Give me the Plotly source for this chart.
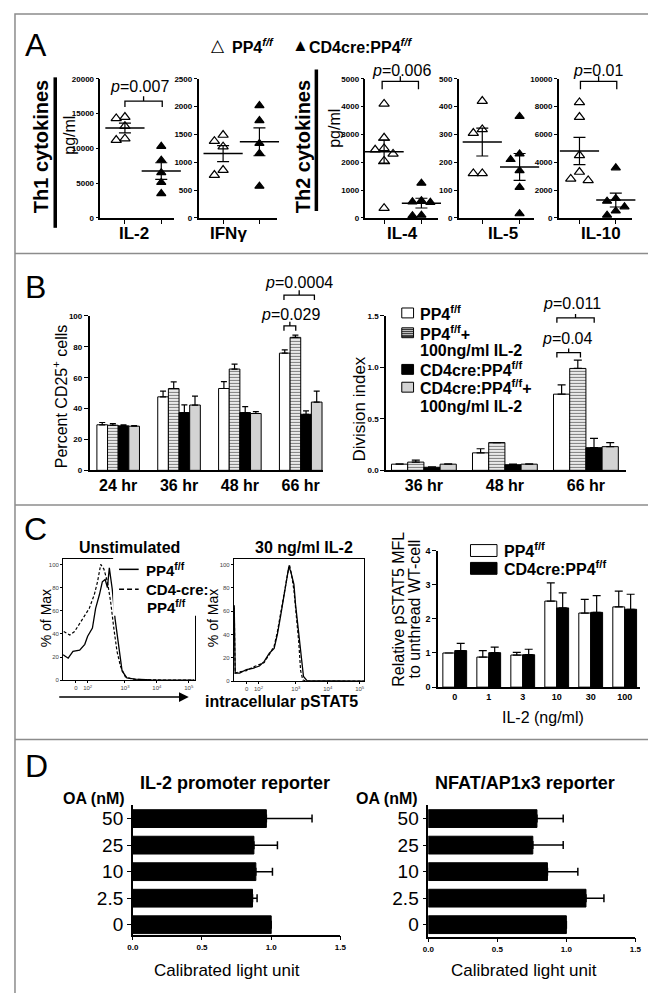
import numpy as np
import plotly.graph_objects as go

W, H = 656, 993
FONT = "Liberation Sans, Arial, Helvetica, sans-serif"

# ---------------- Panel A: cytokines (pg/ml) ----------------
cyto_names = ["IL-2", "IFNγ", "IL-4", "IL-5", "IL-10"]
il2_wt = [14300, 14500, 13200, 11200, 11400]
il2_ko = [10300, 8300, 6500, 5100, 3500]
ifng_wt = [1490, 1380, 1280, 770, 860]
ifng_ko = [2020, 1750, 1340, 1160, 570]
il4_wt = [4100, 2880, 2500, 2450, 2300, 2050, 350]
il4_ko = [1250, 620, 580, 560, 100, 80]
il5_wt = [420, 318, 305, 160, 160]
il5_ko = [365, 230, 210, 170, 110, 15]
il10_wt = [8300, 7250, 4500, 3300, 2800, 2700]
il10_ko = [3600, 1400, 1200, 800, 500, 200]
cyto_ymax = [20000, 2500, 5000, 500, 10000]
cyto_dtick = [5000, 500, 1000, 100, 2000]

# ---------------- Panel B ----------------
cd25_times = ["24 hr", "36 hr", "48 hr", "66 hr"]
cd25_wt = [29.5, 47.6, 53.0, 75.9]
cd25_wt_err = [1.5, 3.7, 4.5, 2.1]
cd25_wt_il2 = [29.2, 53.0, 65.6, 86.1]
cd25_wt_il2_err = [1.0, 4.3, 3.2, 1.5]
cd25_ko = [28.8, 37.4, 37.4, 36.3]
cd25_ko_err = [0.6, 5.0, 3.8, 2.2]
cd25_ko_il2 = [28.6, 42.3, 36.8, 44.2]
cd25_ko_il2_err = [0.4, 5.8, 1.2, 7.1]

div_times = ["36 hr", "48 hr", "66 hr"]
div_wt = [0.06, 0.17, 0.74]
div_wt_err = [0.004, 0.04, 0.09]
div_wt_il2 = [0.08, 0.27, 0.99]
div_wt_il2_err = [0.02, 0.0, 0.08]
div_ko = [0.03, 0.055, 0.22]
div_ko_err = [0.003, 0.005, 0.09]
div_ko_il2 = [0.06, 0.06, 0.23]
div_ko_il2_err = [0.003, 0.003, 0.04]

# ---------------- Panel C ----------------
hist_ticks = ["0", "10<sup>2</sup>", "10<sup>3</sup>", "10<sup>4</sup>", "10<sup>5</sup>"]
hist_tick_pos = [1.46, 1.83, 3, 4, 5]
unstim_wt_x = [1.06, 1.22, 1.37, 1.58, 1.74, 1.83, 1.98, 2.08, 2.20, 2.29, 2.38, 2.45, 2.51, 2.60, 2.69, 2.82, 2.91, 3.06, 3.31, 3.83, 5.18]
unstim_wt_y = [22, 19, 25, 26, 31, 38, 45, 62, 74, 85, 87, 80, 97, 79, 53, 25, 8, 2, 1, 0.3, 0]
unstim_ko_x = [1.08, 1.27, 1.42, 1.58, 1.73, 1.88, 2.04, 2.14, 2.24, 2.34, 2.45, 2.55, 2.65, 2.75, 2.86, 3.01, 3.22, 3.60, 5.18]
unstim_ko_y = [42, 39, 42, 49, 55, 62, 74, 85, 100, 96, 85, 68, 45, 25, 12, 3, 1, 0.3, 0]
il2stim_wt_x = [1.07, 1.10, 1.24, 1.45, 1.65, 1.86, 2.01, 2.17, 2.32, 2.42, 2.53, 2.63, 2.73, 2.78, 2.84, 2.94, 2.99, 3.09, 3.19, 3.24, 3.35, 5.15]
il2stim_wt_y = [65, 7, 7, 10, 11, 13, 17, 24, 28, 40, 57, 74, 88, 98, 94, 83, 66, 40, 17, 4, 0.5, 0]
il2stim_ko_x = [1.07, 1.10, 1.24, 1.45, 1.65, 1.86, 2.01, 2.17, 2.32, 2.42, 2.53, 2.63, 2.73, 2.80, 2.86, 2.94, 3.02, 3.09, 3.15, 3.22, 3.35, 5.15]
il2stim_ko_y = [63, 7, 8, 9, 12, 14, 16, 23, 30, 42, 60, 76, 90, 100, 92, 78, 55, 34, 9, 1, 0, 0]

il2_doses = ["0", "1", "3", "10", "30", "100"]
pstat5_wt = [1.0, 0.88, 0.94, 2.52, 2.17, 2.35]
pstat5_wt_err = [0.0, 0.19, 0.08, 0.53, 0.40, 0.46]
pstat5_ko = [1.07, 1.01, 0.95, 2.32, 2.19, 2.28]
pstat5_ko_err = [0.21, 0.16, 0.16, 0.44, 0.49, 0.44]

# ---------------- Panel D ----------------
oa_doses = ["0", "2.5", "10", "25", "50"]
il2_reporter = [1.0, 0.865, 0.889, 0.875, 0.965]
il2_reporter_err = [0.0, 0.033, 0.12, 0.17, 0.33]
nfat_reporter = [1.0, 1.142, 0.863, 0.757, 0.787]
nfat_reporter_err = [0.0, 0.13, 0.22, 0.22, 0.19]

# =========================================================
fig = go.Figure()
L = {}
annotations = []
shapes = []


def X(x):
    return x / W


def Y(y):
    return 1 - y / H


def axn(n, a):
    return f"{a}axis" if n == 1 else f"{a}axis{n}"


def ref(n, a):
    return a if n == 1 else f"{a}{n}"


def base_axis(**kw):
    d = dict(showline=True, linecolor="black", linewidth=1.5, ticks="outside",
             ticklen=4, tickwidth=1.2, tickcolor="black", showgrid=False,
             zeroline=False, fixedrange=True,
             tickfont=dict(family=FONT, size=8, color="black", weight="bold"))
    d.update(kw)
    return d


def txt(x, y, text, size, bold=False, angle=0, xanchor="center", yanchor="middle", color="black"):
    annotations.append(dict(x=X(x), y=Y(y), xref="paper", yref="paper", text=text,
                            showarrow=False, textangle=angle, xanchor=xanchor, yanchor=yanchor,
                            font=dict(family=FONT, size=size, color=color,
                                      weight="bold" if bold else "normal")))


def line(x0, y0, x1, y1, width=1.0, color="black", dash="solid"):
    shapes.append(dict(type="line", xref="paper", yref="paper", x0=X(x0), y0=Y(y0),
                       x1=X(x1), y1=Y(y1), line=dict(color=color, width=width, dash=dash)))


def rect(x0, y0, x1, y1, fill, lc="black", lw=1.0):
    shapes.append(dict(type="rect", xref="paper", yref="paper", x0=X(x0), y0=Y(y1),
                       x1=X(x1), y1=Y(y0), fillcolor=fill, line=dict(color=lc, width=lw)))


def bracket(xl, xr, ybar, yleg, ytick):
    xm = (X(xl) + X(xr)) / 2
    path = (f"M{X(xl)},{Y(yleg)} L{X(xl)},{Y(ybar)} L{X(xr)},{Y(ybar)} L{X(xr)},{Y(yleg)} "
            f"M{xm},{Y(ybar)} L{xm},{Y(ytick)}")
    shapes.append(dict(type="path", path=path, xref="paper", yref="paper",
                       line=dict(color="black", width=1.3)))


def swarm(vals, hstep, dx):
    vals = list(vals)
    order = np.argsort(-np.asarray(vals), kind="stable")
    placed = []
    offs = np.zeros(len(vals))
    for i in order:
        v = vals[i]
        chosen = 0.0
        for k in [0, -1, 1, -2, 2]:
            o = k * dx
            if all(abs(v - pv) >= hstep or abs(o - po) >= dx * 0.99 for pv, po in placed):
                chosen = o
                break
        offs[i] = chosen
        placed.append((v, chosen))
    return offs


# ---------------- Panel A ----------------
A_specs = [
    (il2_wt, il2_ko, 88, 163, 113, 150),
    (ifng_wt, ifng_ko, 188, 268, 213, 250),
    (il4_wt, il4_ko, 358, 432, 377, 415),
    (il5_wt, il5_ko, 453, 530, 477, 515),
    (il10_wt, il10_ko, 555, 630, 576, 613),
]
for i, (wt, ko, x0, x1, c0, c1) in enumerate(A_specs):
    n = i + 1
    unit = c1 - c0
    ymax = cyto_ymax[i]
    L[axn(n, "x")] = base_axis(domain=[X(x0), X(x1)], anchor=ref(n, "y"),
                               range=[(x0 - c0) / unit, (x1 - c0) / unit],
                               tickvals=[0, 1], showticklabels=False, ticklen=4)
    L[axn(n, "y")] = base_axis(domain=[Y(207), Y(66.5)], anchor=ref(n, "x"),
                               range=[0, ymax], dtick=cyto_dtick[i], tickformat="d", ticklen=3)
    hstep = ymax * 8.5 / 140
    for k, (vals, sym, size) in enumerate([(wt, "triangle-up-open", 9), (ko, "triangle-up", 8)]):
        offs = swarm(vals, hstep, 0.24)
        fig.add_trace(go.Scatter(
            x=list(k + offs), y=vals, mode="markers", cliponaxis=False,
            marker=dict(symbol=sym, size=size, color="black", line=dict(color="black", width=1.2)),
            xaxis=ref(n, "x"), yaxis=ref(n, "y"), showlegend=False, hoverinfo="skip"))
        m = float(np.mean(vals))
        s = float(np.std(vals, ddof=1) / np.sqrt(len(vals)))
        fig.add_trace(go.Scatter(
            x=[k], y=[m], mode="markers", cliponaxis=False,
            marker=dict(symbol="line-ew", size=28, color="black", line=dict(color="black", width=1.5)),
            error_y=dict(type="data", array=[s], width=6, thickness=1.2, color="black"),
            xaxis=ref(n, "x"), yaxis=ref(n, "y"), showlegend=False, hoverinfo="skip"))

label_x = [122, 219, 396, 498, 598]
for name, lx in zip(cyto_names, label_x):
    txt(lx, 223, name, 17, bold=True)

txt(22, 32, "A", 32)
txt(199, 33, "△", 17, xanchor="left")
txt(220, 33, "<b>PP4<sup><i>f/f</i></sup></b>", 16, xanchor="left")
txt(281, 33, "▲", 17, xanchor="left")
txt(298, 33, "<b>CD4cre:PP4<sup><i>f/f</i></sup></b>", 16, xanchor="left")
txt(27, 135, "Th1 cytokines", 20, bold=True, angle=-90)
txt(294, 135, "Th2 cytokines", 20, bold=True, angle=-90)
line(42, 65, 42, 217, width=3.5)
line(308, 57, 308, 200, width=3.5)
txt(57, 123, "pg/ml", 16, angle=-90)
txt(327, 117, "pg/ml", 16, angle=-90)
txt(128, 74, "<i>p</i>=0.007", 16)
bracket(113, 151, 89, 95, 84)
txt(395, 58, "<i>p</i>=0.006", 16)
bracket(375, 412, 69, 77, 64)
txt(595, 58, "<i>p</i>=0.01", 16)
bracket(577, 614, 69, 77, 64)


# ---------------- Panel B ----------------
def bar_marker(kind):
    m = dict(color="white", line=dict(color="black", width=1))
    if kind == "stripe":
        m["pattern"] = dict(shape="-", size=3, solidity=0.45, fgcolor="black", bgcolor="white")
    elif kind == "black":
        m["color"] = "black"
    elif kind == "grey":
        m["color"] = "#d3d3d3"
    return m


def up_err(err, width=3):
    return dict(type="data", symmetric=False, array=err, arrayminus=[0] * len(err),
                width=width, thickness=1.2, color="black")


# B left
n = 6
L[axn(n, "x")] = base_axis(domain=[X(77), X(315)], anchor=ref(n, "y"), type="category",
                           range=[-0.47, 3.37], ticks="",
                           tickfont=dict(family=FONT, size=16, color="black", weight="bold"))
L[axn(n, "y")] = base_axis(domain=[Y(462), Y(306)], anchor=ref(n, "x"), range=[0, 100], dtick=20)
w = 0.175
for j, (vals, err, kind) in enumerate([(cd25_wt, cd25_wt_err, "white"),
                                        (cd25_wt_il2, cd25_wt_il2_err, "stripe"),
                                        (cd25_ko, cd25_ko_err, "black"),
                                        (cd25_ko_il2, cd25_ko_il2_err, "grey")]):
    fig.add_trace(go.Bar(x=cd25_times, y=vals, width=w, offset=-2 * w + j * w,
                         marker=bar_marker(kind), error_y=up_err(err),
                         xaxis=ref(n, "x"), yaxis=ref(n, "y"), showlegend=False, hoverinfo="skip"))

# B right
n = 7
L[axn(n, "x")] = base_axis(domain=[X(379), X(623)], anchor=ref(n, "y"), type="category",
                           range=[-0.467, 2.49], ticks="",
                           tickfont=dict(family=FONT, size=16, color="black", weight="bold"))
L[axn(n, "y")] = base_axis(domain=[Y(462), Y(306)], anchor=ref(n, "x"), range=[0, 1.5],
                           dtick=0.5, tickformat=".1f")
w = 0.2
for j, (vals, err, kind) in enumerate([(div_wt, div_wt_err, "white"),
                                        (div_wt_il2, div_wt_il2_err, "stripe"),
                                        (div_ko, div_ko_err, "black"),
                                        (div_ko_il2, div_ko_il2_err, "grey")]):
    fig.add_trace(go.Bar(x=div_times, y=vals, width=w, offset=-2 * w + j * w,
                         marker=bar_marker(kind), error_y=up_err(err, 4),
                         xaxis=ref(n, "x"), yaxis=ref(n, "y"), showlegend=False, hoverinfo="skip"))

txt(22, 277, "B", 32)
txt(47, 387, "Percent CD25<sup>+</sup> cells", 16, angle=-90)
txt(352, 400, "Division index", 17, angle=-90)
txt(290, 272, "<i>p</i>=0.0004", 16)
bracket(275, 306, 285, 290, 280)
txt(282, 305, "<i>p</i>=0.029", 16)
bracket(275, 287, 316, 321, 312)
txt(568, 293, "<i>p</i>=0.011", 16)
bracket(553, 591, 308, 313, 304)
txt(563, 329, "<i>p</i>=0.04", 16)
bracket(553, 577, 343, 348, 339)

# B legend
rect(395, 298, 407, 308, "white")
rect(395, 318, 407, 328, "white")
for yy in [319.5, 321.5, 323.5, 325.5, 327.0]:
    line(395, yy, 407, yy, width=1)
rect(395, 355, 407, 365, "black")
rect(395, 373, 407, 383, "#d3d3d3")
txt(412, 303, "<b>PP4<sup>f/f</sup></b>", 16, xanchor="left")
txt(412, 323, "<b>PP4<sup>f/f</sup>+</b>", 16, xanchor="left")
txt(412, 341, "<b>100ng/ml IL-2</b>", 16, xanchor="left")
txt(412, 360, "<b>CD4cre:PP4<sup>f/f</sup></b>", 16, xanchor="left")
txt(412, 378, "<b>CD4cre:PP4<sup>f/f</sup>+</b>", 16, xanchor="left")
txt(412, 397, "<b>100ng/ml IL-2</b>", 16, xanchor="left")

# ---------------- Panel C ----------------
hist_specs = [
    (8, 50, 184, 674, 5.185, unstim_wt_x, unstim_wt_y, unstim_ko_x, unstim_ko_y),
    (9, 224, 357, 675, 5.15, il2stim_wt_x, il2stim_wt_y, il2stim_ko_x, il2stim_ko_y),
]
for n, x0, x1, yb, xmax, wx, wy, kx, ky in hist_specs:
    tf = dict(family=FONT, size=6, color="#444")
    L[axn(n, "x")] = base_axis(domain=[X(x0), X(x1)], anchor=ref(n, "y"), range=[1.06, xmax],
                               tickvals=hist_tick_pos, ticktext=hist_ticks, linewidth=1,
                               mirror=True, ticklen=2, tickwidth=0.8, tickfont=tf)
    L[axn(n, "y")] = base_axis(domain=[Y(yb), Y(552)], anchor=ref(n, "x"), range=[0, 104.3],
                               tickvals=[0, 20, 40, 60, 80, 100], linewidth=1, mirror=True,
                               ticklen=2, tickwidth=0.8, tickfont=tf)
    fig.add_trace(go.Scatter(x=wx, y=wy, mode="lines", line=dict(color="black", width=1.3),
                             xaxis=ref(n, "x"), yaxis=ref(n, "y"), showlegend=False, hoverinfo="skip"))
    fig.add_trace(go.Scatter(x=kx, y=ky, mode="lines",
                             line=dict(color="black", width=1.2, dash="3px,2px"),
                             xaxis=ref(n, "x"), yaxis=ref(n, "y"), showlegend=False, hoverinfo="skip"))

n = 10
L[axn(n, "x")] = base_axis(domain=[X(432), X(638)], anchor=ref(n, "y"), type="category",
                           range=[-0.49, 5.46], ticks="",
                           tickfont=dict(family=FONT, size=9, color="black", weight="bold"))
L[axn(n, "y")] = base_axis(domain=[Y(681), Y(543)], anchor=ref(n, "x"), range=[0, 4], dtick=1,
                           tickfont=dict(family=FONT, size=9, color="black", weight="bold"))
w = 0.35
for j, (vals, err, kind) in enumerate([(pstat5_wt, pstat5_wt_err, "white"),
                                        (pstat5_ko, pstat5_ko_err, "black")]):
    fig.add_trace(go.Bar(x=il2_doses, y=vals, width=w, offset=-w + j * w,
                         marker=bar_marker(kind), error_y=up_err(err, 4),
                         xaxis=ref(n, "x"), yaxis=ref(n, "y"), showlegend=False, hoverinfo="skip"))

txt(22, 521, "C", 32)
txt(118, 540, "Unstimulated", 16, bold=True)
txt(295, 540, "30 ng/ml IL-2", 16, bold=True)
txt(32, 611, "% of Max", 14, angle=-90)
txt(203, 611, "% of Max", 14, angle=-90)
rect(101, 548, 192, 609, "white", lc="white", lw=0)
line(107, 562, 127, 562, width=1.5)
line(107, 582, 127, 582, width=1.5, dash="5px,3px")
txt(132, 562, "<b>PP4<sup>f/f</sup></b>", 15, xanchor="left")
txt(132, 582, "<b>CD4-cre:</b>", 15, xanchor="left")
txt(133, 600, "<b>PP4<sup>f/f</sup></b>", 15, xanchor="left")
annotations.append(dict(x=X(178), y=Y(691), ax=-131, ay=0, axref="pixel", ayref="pixel",
                        xref="paper", yref="paper", text="", showarrow=True, arrowhead=2,
                        arrowsize=1.3, arrowwidth=1.5, arrowcolor="black"))
txt(272, 695, "intracellular pSTAT5", 16, bold=True)
txt(392, 602, "Relative pSTAT5 MFL", 16, angle=-90)
txt(408, 602, "to unthread WT-cell", 16, angle=-90)
txt(539, 712, "IL-2 (ng/ml)", 16)
rect(465, 537, 492, 549, "white")
rect(465, 555, 492, 567, "black")
txt(497, 542, "<b>PP4<sup>f/f</sup></b>", 16, xanchor="left")
txt(497, 561, "<b>CD4cre:PP4<sup>f/f</sup></b>", 16, xanchor="left")

# ---------------- Panel D ----------------
D_specs = [(11, 121, 332.5, 931, -0.373, il2_reporter, il2_reporter_err),
           (12, 422, 633, 933, -0.45, nfat_reporter, nfat_reporter_err)]
for n, x0, x1, yb, rmin, vals, err in D_specs:
    L[axn(n, "x")] = base_axis(domain=[X(x0), X(x1)], anchor=ref(n, "y"), range=[0, 1.5],
                               dtick=0.5, tickformat=".1f", ticklen=4)
    L[axn(n, "y")] = base_axis(domain=[Y(yb), Y(800)], anchor=ref(n, "x"), type="category",
                               categoryorder="array", categoryarray=oa_doses,
                               range=[rmin, 4.515], ticklen=4,
                               tickfont=dict(family=FONT, size=19, color="black"))
    fig.add_trace(go.Bar(y=oa_doses, x=vals, orientation="h", width=0.67,
                         marker=dict(color="black", line=dict(color="black", width=1)),
                         error_x=dict(type="data", symmetric=False, array=err,
                                      arrayminus=[0] * len(err), width=4, thickness=1.5, color="black"),
                         xaxis=ref(n, "x"), yaxis=ref(n, "y"), showlegend=False, hoverinfo="skip"))

txt(23, 761, "D", 32)
txt(225, 778, "IL-2 promoter reporter", 18, bold=True)
txt(521, 778, "NFAT/AP1x3 reporter", 18, bold=True)
txt(81, 793, "OA (nM)", 16, bold=True)
txt(380, 793, "OA (nM)", 16, bold=True)
txt(217, 967, "Calibrated light unit", 17)
txt(520, 967, "Calibrated light unit", 17)

# ---------------- frame ----------------
rect(1, 1, 655, 992, "rgba(0,0,0,0)", lc="#8c8c8c", lw=1.5)
for yy in [243, 497, 734]:
    line(1, yy, 655, yy, width=1.5, color="#8c8c8c")

L.update(dict(width=W, height=H, margin=dict(l=0, r=0, t=0, b=0), paper_bgcolor="white",
              plot_bgcolor="rgba(0,0,0,0)", showlegend=False, barmode="overlay",
              font=dict(family=FONT, color="black"), annotations=annotations, shapes=shapes))
fig.update_layout(**L)
fig.write_html("out.html")
